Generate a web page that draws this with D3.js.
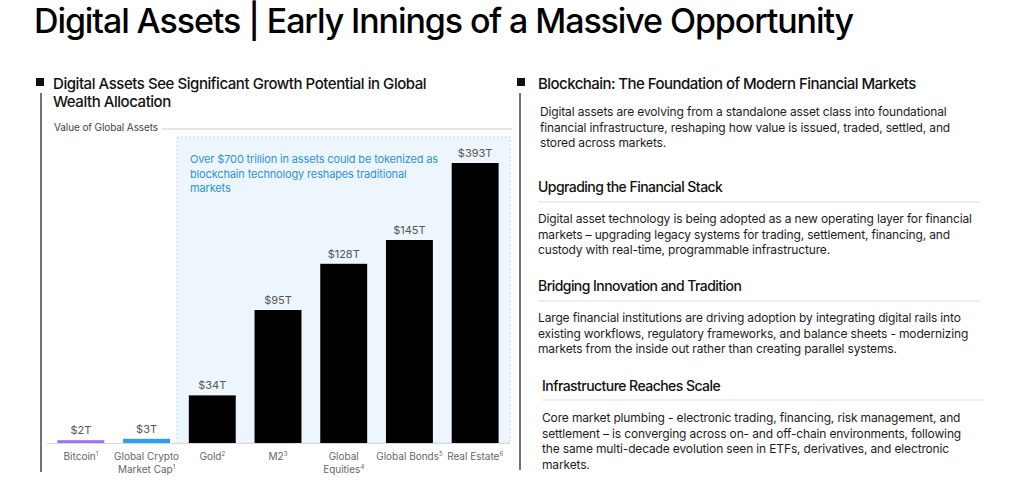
<!DOCTYPE html>
<html>
<head>
<meta charset="utf-8">
<script src="https://cdn.jsdelivr.net/npm/d3@7"></script>
<style>
  body { margin: 0; background: #fff; }
  svg { display: block; font-family: "Inter", "Roboto", sans-serif; }
</style>
</head>
<body>
<div id="chart"></div>
<script>
// chart data
const categories = ["Bitcoin", "Global Crypto Market Cap", "Gold", "M2", "Global Equities", "Global Bonds", "Real Estate"]
const labelLines = [["Bitcoin"], ["Global Crypto", "Market Cap"], ["Gold"], ["M2"], ["Global", "Equities"], ["Global Bonds"], ["Real Estate"]]
const footnotes = ["1", "1", "2", "3", "4", "5", "6"]
const values = [2, 3, 34, 95, 128, 145, 393]
const valueLabels = ["$2T", "$3T", "$34T", "$95T", "$128T", "$145T", "$393T"]
const barColors = ["#a070f2", "#2b9ef2", "#000", "#000", "#000", "#000", "#000"]

// right hand text
const sections = [
  { title: null, body: ["Digital assets are evolving from a standalone asset class into foundational",
    "financial infrastructure, reshaping how value is issued, traded, settled, and",
    "stored across markets."] },
  { title: "Upgrading the Financial Stack", body: ["Digital asset technology is being adopted as a new operating layer for financial",
    "markets – upgrading legacy systems for trading, settlement, financing, and",
    "custody with real-time, programmable infrastructure."] },
  { title: "Bridging Innovation and Tradition", body: ["Large financial institutions are driving adoption by integrating digital rails into",
    "existing workflows, regulatory frameworks, and balance sheets - modernizing",
    "markets from the inside out rather than creating parallel systems."] },
  { title: "Infrastructure Reaches Scale", body: ["Core market plumbing - electronic trading, financing, risk management, and",
    "settlement – is converging across on- and off-chain environments, following",
    "the same multi-decade evolution seen in ETFs, derivatives, and electronic",
    "markets."] }
]

const width = 1024
const height = 480

const svg = d3.select("#chart")
  .append("svg")
    .attr("width", width)
    .attr("height", height)

const headFont = "Inter, sans-serif"

// main title
svg.append("text")
  .attr("x", 34).attr("y", 33)
  .style("font-family", headFont)
  .style("font-size", "34px")
  .style("font-weight", 500)
  .style("letter-spacing", "-1.1px")
  .attr("fill", "#000")
  .text("Digital Assets | Early Innings of a Massive Opportunity")

// ---------- left panel ----------
svg.append("rect").attr("x", 36).attr("y", 78).attr("width", 8).attr("height", 8).attr("fill", "#111")
svg.append("line").attr("x1", 41).attr("x2", 41).attr("y1", 93).attr("y2", 472)
  .attr("stroke", "#444").attr("stroke-width", 1.5)

const leftHead = svg.append("text")
  .style("font-family", headFont).style("font-size", "15px").style("font-weight", 500)
  .style("letter-spacing", "-0.45px").attr("fill", "#111")
leftHead.append("tspan").attr("x", 53).attr("y", 89).text("Digital Assets See Significant Growth Potential in Global")
leftHead.append("tspan").attr("x", 53).attr("y", 107).text("Wealth Allocation")

svg.append("text").attr("x", 54).attr("y", 131)
  .style("font-size", "10px").style("letter-spacing", "-0.1px").attr("fill", "#444")
  .text("Value of Global Assets")
svg.append("line").attr("x1", 162).attr("x2", 512).attr("y1", 129).attr("y2", 129)
  .attr("stroke", "#ddd").attr("stroke-width", 1.5)

// highlighted region
svg.append("rect").attr("x", 177).attr("y", 137).attr("width", 333).attr("height", 306)
  .attr("fill", "#edf5fd").attr("stroke", "#b9dbf5").attr("stroke-dasharray", "2,2")

const note = svg.append("text").style("font-size", "11px").style("letter-spacing", "-0.15px").attr("fill", "#2f93dc")
;["Over $700 trillion in assets could be tokenized as",
  "blockchain technology reshapes traditional",
  "markets"].forEach((t, i) => note.append("tspan").attr("x", 190).attr("y", 163 + i * 14.5).text(t))

const x = d3.scaleBand()
  .domain(categories)
  .range([48, 508])
  .paddingInner(0.286)
  .paddingOuter(0.143)

// Real Estate runs past the top so the scale is clamped
const y = d3.scaleLinear()
  .domain([0, 200])
  .range([443, 163])
  .clamp(true)

const data = categories.map((c, i) => ({ cat: c, value: values[i], label: valueLabels[i], color: barColors[i], lines: labelLines[i], fn: footnotes[i] }))

svg.append("g")
  .selectAll("rect")
  .data(data)
  .join("rect")
    .attr("x", d => x(d.cat))
    .attr("y", d => y(d.value))
    .attr("width", x.bandwidth())
    .attr("height", d => y(0) - y(d.value))
    .attr("fill", d => d.color)

svg.append("g")
  .selectAll("text")
  .data(data)
  .join("text")
    .attr("x", d => x(d.cat) + x.bandwidth() / 2)
    .attr("y", d => y(d.value) - 6)
    .attr("text-anchor", "middle")
    .style("font-size", "11px")
    .attr("fill", "#555")
    .text(d => d.label)

// x axis
const xAxis = svg.append("g")
  .attr("transform", `translate(0,${y(0)})`)
  .call(d3.axisBottom(x).tickSize(0).tickFormat(""))
xAxis.select(".domain").attr("stroke", "#d4dbe3").attr("d", "M47,0.5H510")

const xl = svg.append("g")
  .selectAll("text")
  .data(data)
  .join("text")
    .attr("x", d => x(d.cat) + x.bandwidth() / 2)
    .attr("y", 460)
    .attr("text-anchor", "middle")
    .style("font-size", "10px")
    .attr("fill", "#666")
xl.each(function(d) {
  const t = d3.select(this)
  d.lines.forEach((ln, i) => {
    t.append("tspan").attr("x", x(d.cat) + x.bandwidth() / 2).attr("dy", i === 0 ? 0 : 13).text(ln)
    if (i === d.lines.length - 1) {
      t.append("tspan").attr("dy", -4).style("font-size", "6px").text(d.fn)
      t.append("tspan").attr("dy", 4).text("")
    }
  })
})

// ---------- right panel ----------
svg.append("rect").attr("x", 517).attr("y", 78).attr("width", 8).attr("height", 8).attr("fill", "#111")
svg.append("line").attr("x1", 520).attr("x2", 520).attr("y1", 93).attr("y2", 470)
  .attr("stroke", "#444").attr("stroke-width", 1.5)
svg.append("text").attr("x", 538).attr("y", 89)
  .style("font-family", headFont).style("font-size", "15px").style("font-weight", 500)
  .style("letter-spacing", "-0.55px").attr("fill", "#111")
  .text("Blockchain: The Foundation of Modern Financial Markets")

const secLayout = [
  { tx: 540, bodyY: 116 },
  { tx: 538, titleY: 192, ruleY: 202, bodyY: 223 },
  { tx: 538, titleY: 291, ruleY: 301, bodyY: 322 },
  { tx: 542, titleY: 391, ruleY: 400, bodyY: 422 }
]

sections.forEach((s, i) => {
  const L = secLayout[i]
  if (s.title) {
    svg.append("text").attr("x", L.tx).attr("y", L.titleY)
      .style("font-family", headFont).style("font-size", "14px").style("font-weight", 500)
      .style("letter-spacing", "-0.55px").attr("fill", "#111")
      .text(s.title)
    svg.append("line").attr("x1", L.tx).attr("x2", L.tx + 442).attr("y1", L.ruleY).attr("y2", L.ruleY)
      .attr("stroke", "#ddd").attr("stroke-width", 1)
  }
  const t = svg.append("text").style("font-size", "12px").style("letter-spacing", "-0.15px").attr("fill", "#1c1c1c")
  s.body.forEach((ln, j) => t.append("tspan").attr("x", L.tx).attr("y", L.bodyY + j * 15.6).text(ln))
})
</script>
</body>
</html>
